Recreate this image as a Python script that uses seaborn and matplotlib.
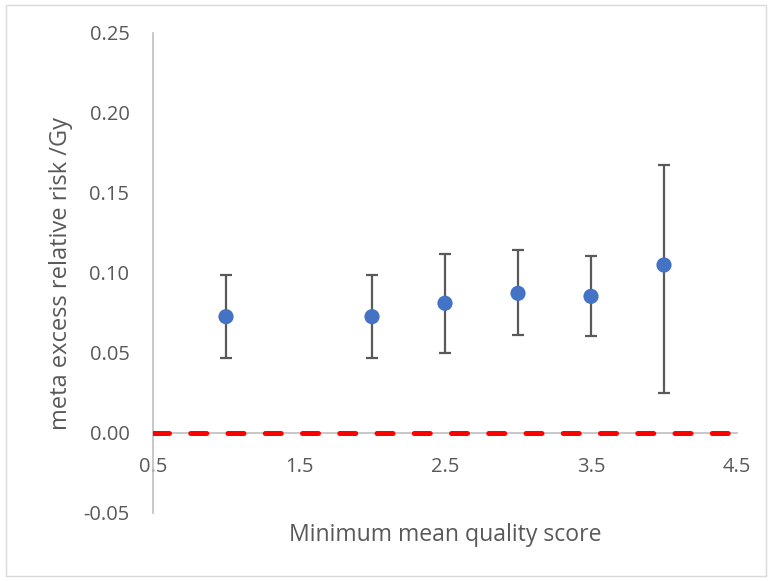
import matplotlib
matplotlib.use("Agg")
import matplotlib.pyplot as plt
import seaborn as sns
import pandas as pd
from matplotlib.patches import Rectangle
from matplotlib.ticker import FormatStrFormatter

# values
quality_score = [1.0, 2.0, 2.5, 3.0, 3.5, 4.0]
err_per_gy = [0.0727, 0.0727, 0.0811, 0.0873, 0.0854, 0.1050]
ci_low = [0.0470, 0.0468, 0.0500, 0.0612, 0.0607, 0.0248]
ci_high = [0.0985, 0.0988, 0.1121, 0.1143, 0.1105, 0.1675]
x_ticks = [0.5, 1.5, 2.5, 3.5, 4.5]
y_ticks = [-0.05, 0.00, 0.05, 0.10, 0.15, 0.20, 0.25]

df = pd.DataFrame({"score": quality_score, "err": err_per_gy,
                   "lo": ci_low, "hi": ci_high})

sns.set_style("white")
plt.rcParams["font.family"] = ["Open Sans", "DejaVu Sans"]
plt.rcParams["axes.unicode_minus"] = False

text_col = "#595959"
axis_col = "#BFBFBF"

fig = plt.figure(figsize=(7.71, 5.81), dpi=100)
ax = fig.add_axes([153 / 771, 68 / 581, 584 / 771, 480 / 581])

# error bars behind the markers
ax.errorbar(df["score"], df["err"],
            yerr=[df["err"] - df["lo"], df["hi"] - df["err"]],
            fmt="none", ecolor=text_col, elinewidth=1.6, capsize=4.4,
            capthick=1.6, zorder=2)
sns.scatterplot(data=df, x="score", y="err", ax=ax, color="#4472C4",
                s=120, edgecolor="none", zorder=4, legend=False)

# zero reference line
ax.axhline(0, color="#FF0000", lw=3.6, dashes=(3.2, 4.25),
           dash_capstyle="round", zorder=3)

ax.set_xlim(0.5, 4.5)
ax.set_ylim(-0.05, 0.25)
ax.set_xticks(x_ticks)
ax.set_yticks(y_ticks)
ax.xaxis.set_major_formatter(FormatStrFormatter("%.1f"))
ax.yaxis.set_major_formatter(FormatStrFormatter("%.2f"))

for side in ["top", "right"]:
    ax.spines[side].set_visible(False)
ax.spines["left"].set_color(axis_col)
ax.spines["left"].set_linewidth(1.2)
ax.spines["bottom"].set_position(("data", 0))
ax.spines["bottom"].set_color(axis_col)
ax.spines["bottom"].set_linewidth(1.2)

ax.tick_params(axis="both", length=0, labelsize=14.5, colors=text_col)
ax.tick_params(axis="x", pad=17)
ax.tick_params(axis="y", pad=17)

ax.set_xlabel("Minimum mean quality score", fontsize=16.6, color=text_col)
ax.set_ylabel("meta excess relative risk /Gy", fontsize=17, color=text_col)
ax.xaxis.set_label_coords(0.5, -0.02)
ax.yaxis.set_label_coords(-0.137, 0.5)

# chart area border
fig.patches.append(Rectangle((6 / 771, 5 / 581), 760 / 771, 571 / 581,
                             transform=fig.transFigure, fill=False,
                             edgecolor="#D9D9D9", lw=1))

plt.savefig("out.png", dpi=100)
plt.close()
